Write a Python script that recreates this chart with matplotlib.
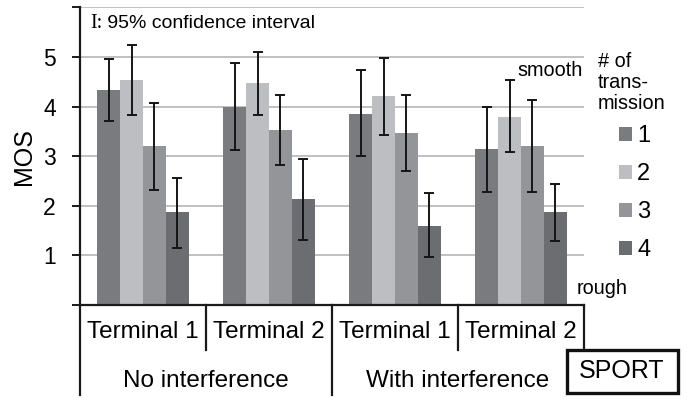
import matplotlib
matplotlib.use("Agg")
import matplotlib.pyplot as plt
import matplotlib.transforms as mtrans
from matplotlib.patches import Rectangle
import numpy as np

plt.rcParams['font.family'] = ['Liberation Sans', 'DejaVu Sans']

terminals = ["Terminal 1", "Terminal 2", "Terminal 1", "Terminal 2"]
conditions = ["No interference", "With interference"]
series_labels = ["1", "2", "3", "4"]
colors = ["#7a7b7f", "#bdbec1", "#949599", "#6c6d71"]

# MOS per group (rows = groups, cols = # of transmission)
mos = [
    [4.33, 4.53, 3.20, 1.87],
    [4.00, 4.47, 3.52, 2.13],
    [3.86, 4.21, 3.46, 1.59],
    [3.14, 3.80, 3.20, 1.87],
]
ci_high = [
    [4.96, 5.24, 4.08, 2.56],
    [4.88, 5.10, 4.23, 2.94],
    [4.73, 4.98, 4.23, 2.25],
    [4.00, 4.53, 4.14, 2.44],
]
ci_low = [
    [3.70, 3.84, 2.31, 1.15],
    [3.12, 3.83, 2.83, 1.31],
    [3.01, 3.42, 2.70, 0.96],
    [2.27, 3.08, 2.27, 1.29],
]
yticks = [0, 1, 2, 3, 4, 5, 6]
ytick_labels = ["", "1", "2", "3", "4", "5", ""]

W, H = 689, 403
fig = plt.figure(figsize=(W / 100, H / 100), dpi=100)
ax = fig.add_axes([80 / W, (H - 305) / H, (584 - 80) / W, (305 - 7.4) / H])

mos_a = np.array(mos)
hi = np.array(ci_high)
lo = np.array(ci_low)
ngroups, nser = mos_a.shape
bw = 0.1825
off = 0.135
gx = np.arange(ngroups)
handles = []
for j in range(nser):
    xs = gx + off + (j + 0.5) * bw
    b = ax.bar(xs, mos_a[:, j], width=bw, color=colors[j], zorder=2, label=series_labels[j])
    handles.append(b)
    ax.errorbar(xs, mos_a[:, j], yerr=[mos_a[:, j] - lo[:, j], hi[:, j] - mos_a[:, j]],
                fmt='none', ecolor='#151515', elinewidth=1.4, capsize=3.3, capthick=1.4, zorder=3)

ax.set_xlim(0, ngroups)
ax.set_ylim(0, 6)
ax.set_yticks(yticks)
ax.set_yticklabels(ytick_labels, fontsize=16.5)
ax.set_xticks([])
for s in ['top', 'right']:
    ax.spines[s].set_visible(False)
ax.spines['left'].set_linewidth(1.6)
ax.spines['bottom'].set_linewidth(1.6)
ax.spines['left'].set_color('#1a1a1a')
ax.spines['bottom'].set_color('#1a1a1a')
ax.tick_params(axis='y', direction='out', length=5.5, width=1.4, color='#1a1a1a', pad=12)
for yv in yticks[1:]:
    ax.axhline(yv, color='#b5b5b5', lw=1.2, zorder=1)
ax.set_ylabel("MOS", fontsize=18)
ax.yaxis.set_label_coords((24 - 80) / 504, 0.5)
ax.yaxis.label.set_va('center')

# two-tier category axis
tr = mtrans.blended_transform_factory(ax.transData, ax.transAxes)
y_mid = -(350 - 305) / 298
y_bot = -(395 - 305) / 298
for i in range(ngroups + 1):
    yb = y_bot if i % 2 == 0 and i < ngroups else y_mid
    ax.plot([i, i], [0, yb], transform=tr, color='#1a1a1a', lw=1.6, clip_on=False)
for i, t in enumerate(terminals):
    ax.text(i + 0.5, -(332 - 305) / 298, t, transform=tr, ha='center', va='center', fontsize=17.5)
for k, c in enumerate(conditions):
    ax.text(2 * k + 1, -(381 - 305) / 298, c, transform=tr, ha='center', va='center', fontsize=17.5)

# annotations
t1 = fig.text(90 / W, 1 - 24 / H, "I:", family='Liberation Serif', fontsize=14.5, va='center', ha='left')
ax.annotate(" 95% confidence interval", xy=(1, 0.5), xycoords=t1, va='center', ha='left', fontsize=14)
fig.text(583 / W, 1 - 71 / H, "smooth", ha='right', va='center', fontsize=14.3)
fig.text(577 / W, 1 - 288 / H, "rough", ha='left', va='center', fontsize=14.3)
fig.text(598 / W, 1 - 52 / H, "# of\ntrans-\nmission", ha='left', va='top', fontsize=14.3, linespacing=1.12)

leg = fig.legend(handles=handles, labels=series_labels, loc='upper left',
                 bbox_to_anchor=(619 / W, 1 - 125 / H), frameon=False, fontsize=17,
                 handlelength=0.55, handleheight=0.55, handletextpad=0.22, labelspacing=0.68,
                 borderaxespad=0, borderpad=0)

# SPORT box
fig.patches.append(Rectangle((567 / W, 1 - 393 / H), (678 - 567) / W, (393 - 350) / H,
                             transform=fig.transFigure, facecolor='white', edgecolor='#111111',
                             lw=2.4, zorder=5))
fig.text(622 / W, 1 - 371.5 / H, "SPORT", ha='center', va='center', fontsize=18, zorder=6)

fig.savefig("out.png", dpi=100)
